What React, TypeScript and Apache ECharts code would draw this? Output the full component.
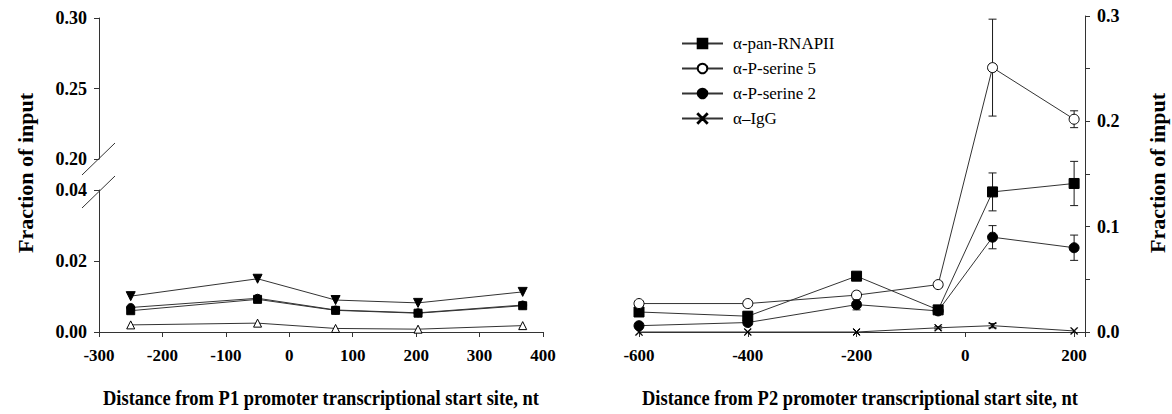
import React, { useEffect, useRef } from "react";
import * as echarts from "echarts";

// ---------- data ----------
const leftX = [-250, -50, 73, 203, 368];
const leftDown = [0.0101, 0.015, 0.009, 0.0082, 0.0113];
const leftCircle = [0.0069, 0.0095, 0.0062, 0.0054, 0.0076];
const leftSquare = [0.006, 0.0092, 0.0061, 0.0053, 0.0074];
const leftUp = [0.002, 0.0025, 0.001, 0.0008, 0.0018];

const rightX = [-600, -400, -200, -50, 50, 200];
const panRNAPII = [0.019, 0.015, 0.053, 0.021, 0.133, 0.141];
const panErr = [0.002, 0.004, 0.003, 0.003, 0.018, 0.021];
const ser5 = [0.027, 0.027, 0.035, 0.045, 0.251, 0.202];
const ser5Err = [0.002, 0.002, 0.003, 0.003, 0.046, 0.008];
const ser2 = [0.006, 0.009, 0.026, 0.02, 0.09, 0.08];
const ser2Err = [0.001, 0.002, 0.005, 0.002, 0.011, 0.012];
const igg = [0, 0, 0, 0.004, 0.006, 0.001];
const iggErr = [0, 0, 0, 0.001, 0.002, 0];

const legendNames = ["α-pan-RNAPII", "α-P-serine 5", "α-P-serine 2", "α–IgG"];
const xTitle1 = "Distance from P1 promoter transcriptional start site, nt";
const xTitle2 = "Distance from P2 promoter transcriptional start site, nt";
const yTitle = "Fraction of input";

const FONT = "'Liberation Serif', 'Times New Roman', serif";
const INK = "#1a1a1a";
const CROSS = "path://M0,0.6L0.6,0L5,4.4L9.4,0L10,0.6L5.6,5L10,9.4L9.4,10L5,5.6L0.6,10L0,9.4L4.4,5Z";

const pair = (xs: number[], ys: number[]) => xs.map((x, i) => [x, ys[i]]);
const triple = (xs: number[], ys: number[], es: number[]) => xs.map((x, i) => [x, ys[i], es[i]]);

function errRender(params: any, api: any) {
  const x = api.value(0);
  const y = api.value(1);
  const e = api.value(2);
  if (!e) return null;
  const t = api.coord([x, y + e]);
  const b = api.coord([x, y - e]);
  const hw = 4;
  const st = { stroke: INK, lineWidth: 1 };
  return {
    type: "group",
    children: [
      { type: "line", shape: { x1: t[0], y1: t[1], x2: b[0], y2: b[1] }, style: st },
      { type: "line", shape: { x1: t[0] - hw, y1: t[1], x2: t[0] + hw, y2: t[1] }, style: st },
      { type: "line", shape: { x1: b[0] - hw, y1: b[1], x2: b[0] + hw, y2: b[1] }, style: st },
    ],
  };
}

const axisLabelBold = { color: "#000", fontFamily: FONT, fontWeight: "bold", fontSize: 17 };
const axisLineStyle = { show: true, onZero: false, lineStyle: { color: "#333", width: 1 } };
const tickStyle = { show: true, inside: false, length: 5, lineStyle: { color: "#333", width: 1 } };

export default function App() {
  const ref = useRef<HTMLDivElement>(null);
  useEffect(() => {
    if (!ref.current) return;
    const chart = echarts.init(ref.current, undefined, { renderer: "svg" });
    const lineBase = (name: string, data: any, xi: number, yi: number, symbol: string, size: number, extra: any = {}) => ({
      type: "line",
      name,
      xAxisIndex: xi,
      yAxisIndex: yi,
      data,
      symbol,
      symbolSize: size,
      showAllSymbol: true,
      lineStyle: { color: "#333", width: 1 },
      itemStyle: { color: "#000", borderColor: "#000", borderWidth: 1 },
      z: 3,
      ...extra,
    });
    const titleText = (text: string, cx: number) => ({
      type: "text",
      x: cx,
      y: 398,
      scaleX: 0.88,
      style: { text, fontFamily: FONT, fontWeight: "bold", fontSize: 21, fill: "#000", align: "center", verticalAlign: "middle" },
    });
    const option: any = {
      animation: false,
      backgroundColor: "#fff",
      grid: [
        { left: 99, width: 444, top: 190, height: 142 },
        { left: 99, width: 444, top: 18, height: 141 },
        { left: 639, width: 446, top: 16, height: 316 },
      ],
      xAxis: [
        {
          type: "value", gridIndex: 0, min: -300, max: 400, interval: 100,
          axisLine: axisLineStyle, axisTick: tickStyle, splitLine: { show: false },
          axisLabel: { ...axisLabelBold, margin: 15 },
        },
        { type: "value", gridIndex: 1, min: -300, max: 400, show: false },
        {
          type: "value", gridIndex: 2, min: -600, max: 220, interval: 200,
          axisLine: axisLineStyle, axisTick: tickStyle, splitLine: { show: false },
          axisLabel: { ...axisLabelBold, margin: 15, formatter: (v: number) => (v % 200 === 0 ? String(v) : "") },
        },
      ],
      yAxis: [
        {
          type: "value", gridIndex: 0, min: 0, max: 0.04, interval: 0.02,
          axisLine: axisLineStyle, axisTick: tickStyle, splitLine: { show: false },
          axisLabel: { ...axisLabelBold, fontSize: 18, margin: 12, formatter: (v: number) => v.toFixed(2) },
        },
        {
          type: "value", gridIndex: 1, min: 0.2, max: 0.3, interval: 0.05,
          axisLine: axisLineStyle, axisTick: tickStyle, splitLine: { show: false },
          axisLabel: { ...axisLabelBold, fontSize: 18, margin: 12, formatter: (v: number) => v.toFixed(2) },
        },
        {
          type: "value", gridIndex: 2, position: "right", min: 0, max: 0.3, interval: 0.05,
          axisLine: axisLineStyle, axisTick: tickStyle, splitLine: { show: false },
          axisLabel: {
            ...axisLabelBold, fontSize: 18, margin: 12,
            formatter: (v: number) => (Math.abs(v * 10 - Math.round(v * 10)) < 1e-6 ? v.toFixed(1) : ""),
          },
        },
      ],
      legend: {
        data: legendNames,
        orient: "vertical",
        left: 676,
        top: 30,
        itemWidth: 41,
        itemHeight: 12,
        itemGap: 8,
        textStyle: { fontFamily: FONT, fontSize: 17, color: "#000", padding: [0, 0, 0, 5] },
      },
      graphic: [
        { type: "line", shape: { x1: 82, y1: 175, x2: 115, y2: 143 }, style: { stroke: "#333", lineWidth: 1 } },
        { type: "line", shape: { x1: 82, y1: 208, x2: 115, y2: 176 }, style: { stroke: "#333", lineWidth: 1 } },
        {
          type: "text", x: 25, y: 173, rotation: Math.PI / 2,
          style: { text: yTitle, fontFamily: FONT, fontWeight: "bold", fontSize: 22, fill: "#000", align: "center", verticalAlign: "middle" },
        },
        {
          type: "text", x: 1157, y: 173, rotation: Math.PI / 2,
          style: { text: yTitle, fontFamily: FONT, fontWeight: "bold", fontSize: 22, fill: "#000", align: "center", verticalAlign: "middle" },
        },
        titleText(xTitle1, 321),
        titleText(xTitle2, 860),
      ],
      series: [
        // left panel
        lineBase("left-down", pair(leftX, leftDown), 0, 0, "triangle", 9, { symbolRotate: 180 }),
        lineBase("left-square", pair(leftX, leftSquare), 0, 0, "rect", 8),
        lineBase("left-circle", pair(leftX, leftCircle), 0, 0, "circle", 8),
        lineBase("left-up", pair(leftX, leftUp), 0, 0, "triangle", 8, {
          itemStyle: { color: "#fff", borderColor: "#000", borderWidth: 1 },
        }),
        // right panel error bars
        { type: "custom", xAxisIndex: 2, yAxisIndex: 2, renderItem: errRender, data: triple(rightX, panRNAPII, panErr), z: 2, encode: { x: 0, y: 1 } },
        { type: "custom", xAxisIndex: 2, yAxisIndex: 2, renderItem: errRender, data: triple(rightX, ser5, ser5Err), z: 2, encode: { x: 0, y: 1 } },
        { type: "custom", xAxisIndex: 2, yAxisIndex: 2, renderItem: errRender, data: triple(rightX, ser2, ser2Err), z: 2, encode: { x: 0, y: 1 } },
        { type: "custom", xAxisIndex: 2, yAxisIndex: 2, renderItem: errRender, data: triple(rightX, igg, iggErr), z: 2, encode: { x: 0, y: 1 } },
        // right panel lines
        lineBase(legendNames[0], pair(rightX, panRNAPII), 2, 2, "rect", 10),
        lineBase(legendNames[1], pair(rightX, ser5), 2, 2, "circle", 10, {
          itemStyle: { color: "#fff", borderColor: "#000", borderWidth: 1 },
        }),
        lineBase(legendNames[2], pair(rightX, ser2), 2, 2, "circle", 10),
        lineBase(legendNames[3], pair(rightX, igg), 2, 2, CROSS, 7),
      ],
    };
    chart.setOption(option);
    return () => chart.dispose();
  }, []);
  return <div ref={ref} style={{ position: "absolute", left: 0, top: 0, width: 1172, height: 414 }} />;
}
